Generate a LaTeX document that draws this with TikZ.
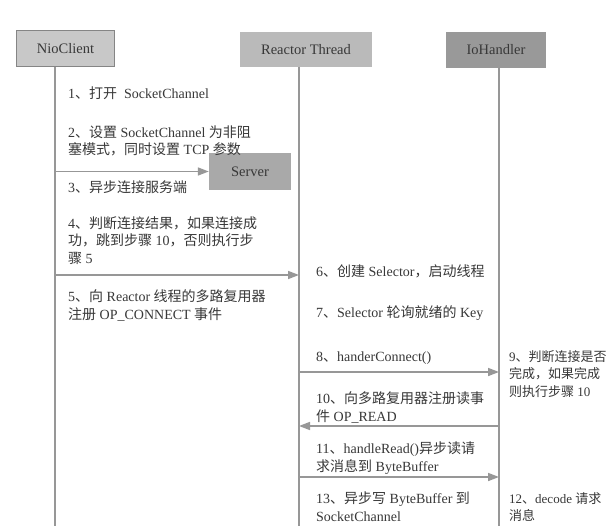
\documentclass[tikz,border=0pt]{standalone}
\usepackage{fontspec}
\setmainfont{Liberation Serif}
\newfontfamily\cjk{Noto Sans CJK SC}
\newcommand{\zh}[1]{{\cjk #1}}
\usetikzlibrary{arrows.meta}
\definecolor{txtc}{HTML}{383838}
\definecolor{linec}{HTML}{979797}
\definecolor{ncfill}{HTML}{C8C8C8}
\definecolor{ncdraw}{HTML}{858585}
\definecolor{rtfill}{HTML}{BABABA}
\definecolor{iofill}{HTML}{999999}
\definecolor{svfill}{HTML}{A9A9A9}
\tikzset{
  lbl/.style={anchor=base west, inner sep=0pt, text=txtc, font=\fontsize{14}{17.5}\selectfont},
  rlbl/.style={lbl, font=\fontsize{13}{17.5}\selectfont},
  headbox/.style={inner sep=0pt, text=txtc, font=\fontsize{14.5}{16}\selectfont},
  life/.style={draw=linec, line width=1.6pt},
  msg/.style={draw=linec, line width=1.6pt, -{Triangle[length=11pt,width=8pt]}},
}
\newcommand{\ml}[1]{\begin{tabular}[t]{@{}l@{}}#1\end{tabular}}
\begin{document}
\begin{tikzpicture}[x=1pt,y=-1pt]
\useasboundingbox[fill=white] (0,0) rectangle (612,526);
% header boxes
\node[headbox, fill=ncfill, draw=ncdraw, line width=1.2pt, minimum width=98pt, minimum height=36pt] (nc) at (65.5,48.5) {NioClient};
\node[headbox, fill=rtfill, minimum width=132pt, minimum height=35pt] (rt) at (306,49.5) {Reactor Thread};
\node[headbox, fill=iofill, minimum width=100pt, minimum height=36pt] (io) at (496,50) {IoHandler};
% lifelines
\coordinate (nlt) at (55,67.2);
\coordinate (nlb) at (55,526);
\coordinate (rlt) at (299,67);
\coordinate (rlb) at (299,526);
\coordinate (ilt) at (499,68);
\coordinate (ilb) at (499,526);
\draw[life] (nlt) -- (nlb);
\draw[life] (rlt) -- (rlb);
\draw[life] (ilt) -- (ilb);
% server
\node[headbox, fill=svfill, minimum width=82pt, minimum height=37pt] (srv) at (250,171.5) {Server};
% messages
\draw[msg] (nlt |- srv.west) -- (srv.west);
\draw[msg] (nlt |- 0,275) -- (rlt |- 0,275);
\draw[msg] (rlt |- 0,372) -- (ilt |- 0,372);
\draw[msg] (ilt |- 0,426) -- (rlt |- 0,426);
\draw[msg] (rlt |- 0,477) -- (ilt |- 0,477);
% labels
\node[lbl] (t1) at (68,98.5) {1\zh{、打开}\ \ SocketChannel};
\node[lbl] (t2) at (68,137.5) {\ml{2\zh{、设置} SocketChannel \zh{为非阻}\\\zh{塞模式，同时设置} TCP \zh{参数}}};
\node[lbl] (t3) at (68,192.5) {3\zh{、异步连接服务端}};
\node[lbl] (t4) at (68,228.5) {\ml{4\zh{、判断连接结果，如果连接成}\\\zh{功，跳到步骤} 10\zh{，否则执行步}\\\zh{骤} 5}};
\node[lbl] (t5) at (68,301.5) {\ml{5\zh{、向} Reactor \zh{线程的多路复用器}\\\zh{注册} OP\_CONNECT \zh{事件}}};
\node[lbl] (t6) at (316,276.5) {6\zh{、创建} Selector\zh{，启动线程}};
\node[lbl] (t7) at (316,317.5) {7\zh{、}Selector \zh{轮询就绪的} Key};
\node[lbl] (t8) at (316,361.5) {8\zh{、}handerConnect()};
\node[rlbl] (t9) at (509,361) {\ml{9\zh{、判断连接是否}\\\zh{完成，如果完成}\\\zh{则执行步骤} 10}};
\node[lbl] (t10) at (316,403.5) {\ml{10\zh{、向多路复用器注册读事}\\\zh{件} OP\_READ}};
\node[lbl] (t11) at (316,453.5) {\ml{11\zh{、}handleRead()\zh{异步读请}\\\zh{求消息到} ByteBuffer}};
\node[rlbl] (t12) at (509,503) {\ml{12\zh{、}decode \zh{请求}\\\zh{消息}}};
\node[lbl] (t13) at (316,503.5) {\ml{13\zh{、异步写} ByteBuffer \zh{到}\\SocketChannel}};
\end{tikzpicture}
\end{document}
